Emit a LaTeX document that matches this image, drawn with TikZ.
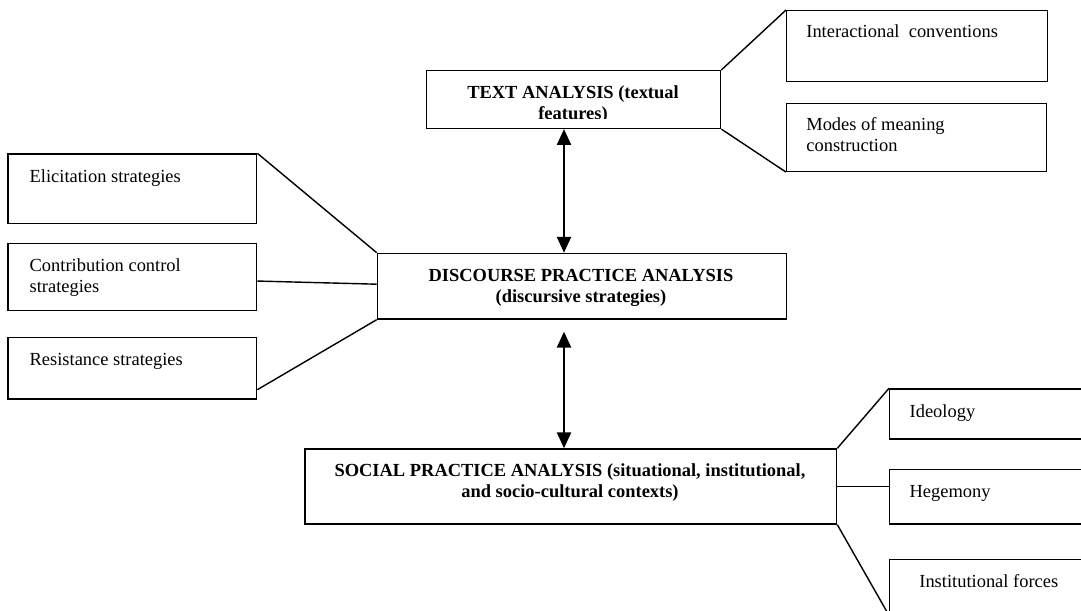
\documentclass[tikz,border=0pt]{standalone}
\usepackage{fontspec}
\setmainfont{Liberation Serif}
\usetikzlibrary{arrows.meta,calc}

\tikzset{
  box/.style 2 args={draw, line width=0.8pt, anchor=north west, inner sep=0pt, minimum width=#1, minimum height=#2},
  txt/.style={font=\fontsize{10.5}{12}\selectfont, inner sep=0pt, anchor=base west, align=left},
  head/.style={font=\bfseries\fontsize{10.5}{12}\selectfont, inner sep=0pt, anchor=base, align=center},
  link/.style={line width=0.8pt},
  dbl/.style={line width=1.1pt, {Triangle[length=9pt,width=8pt]}-{Triangle[length=9pt,width=8pt]}},
}

\begin{document}
\begin{tikzpicture}[x=0.02cm, y=-0.02cm]
		\useasboundingbox (0,0) rectangle (1081,611);
		\clip (0,0) rectangle (1081,611);
		
		% main boxes
		\node[box={5.88cm}{1.154cm}] (textan) at (426,70) {};
		\node[box={8.18cm}{1.312cm}] (disc) at (376.7,252.7) {};
		\node[box={10.634cm}{1.5cm}] (social) at (304.3,448.3) {};
		
		% text features
		\node[box={5.214cm}{1.414cm}] (interact) at (786,10) {};
		\node[box={5.2cm}{1.36cm}] (modes) at (786,102.7) {};
		
		% discursive strategies
		\node[box={4.974cm}{1.388cm}] (elicit) at (7.3,153.3) {};
		\node[box={4.974cm}{1.346cm}] (contrib) at (7.3,242.7) {};
		\node[box={4.974cm}{1.232cm}] (resist) at (7.3,336.7) {};
		
		% contexts
		\node[box={4.4cm}{1cm}] (ideo) at (889,388.3) {};
		\node[box={4.4cm}{1.086cm}] (hege) at (889,469) {};
		\node[box={4.4cm}{1.1cm}] (inst) at (889,559) {};
		
		% labels (two-line nodes sit on their last baseline)
		\begin{scope}
			\clip (426,70) rectangle (720,118.8);
			\node[head] (textan-t) at (573,119.4) {TEXT ANALYSIS (textual\\features)};
		\end{scope}
		\node[head] (disc-t) at (581,302.1) {DISCOURSE PRACTICE ANALYSIS\\(discursive strategies)};
		\node[head] (social-t) at (570,497.8) {SOCIAL PRACTICE ANALYSIS (situational, institutional,\\and socio-cultural contexts)};
		
		\node[txt] (interact-t) at (806,37.3) {Interactional\ \ conventions};
		\node[txt] (modes-t) at (806,151.1) {Modes of meaning\\construction};
		\node[txt] (elicit-t) at (29.3,182.3) {Elicitation strategies};
		\node[txt] (contrib-t) at (29.3,292.1) {Contribution control\\strategies};
		\node[txt] (resist-t) at (29.3,365) {Resistance strategies};
		\node[txt] (ideo-t) at (909.3,417.3) {Ideology};
		\node[txt] (hege-t) at (909.3,497.3) {Hegemony};
		\node[txt] (inst-t) at (919,587.3) {Institutional forces};
		
		% connectors
		\draw[link] (textan.north east)--(interact.north west);
		\draw[link] (textan.south east)--(modes.south west);
		\draw[link] (elicit.north east)--(disc.north west);
		\draw[link] ($(contrib.east)+(0,4)$)--($(disc.west)+(0,-2)$);
		\draw[link] ($(resist.south east)+(0,-10)$)--(disc.south west);
		\draw[link] (social.north east)--(ideo.north west);
		\draw[link] (social.east)--(social.east -| hege.west);
		\draw[link] (social.south east)--(inst.south west);
		
		\coordinate (axis) at (564,0);
		\draw[dbl] (textan.south -| axis)--(disc.north -| axis);
		\draw[dbl] ($(disc.south -| axis)+(0,12)$)--(social.north -| axis);
	\end{tikzpicture}
\end{document}
